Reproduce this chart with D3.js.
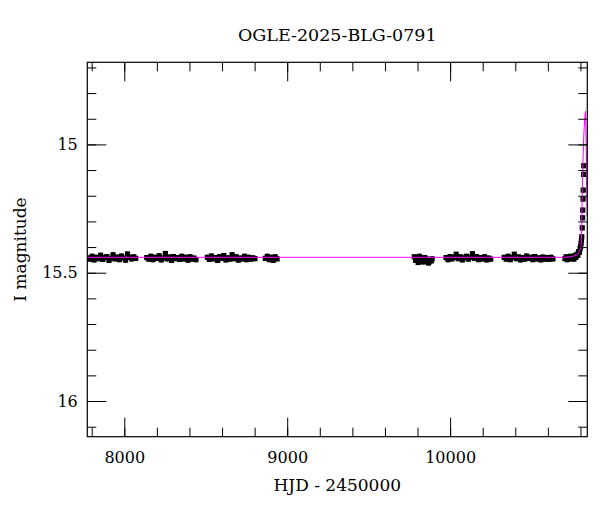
<html>
<head>
<meta charset="utf-8">
<title>OGLE-2025-BLG-0791</title>
<script src="https://d3js.org/d3.v7.min.js"></script>
<style>
    body { margin: 0; background: #fff; }
    text { font-family: "DejaVu Serif", serif; fill: #000; }
    .axis path.domain { display: none; }
    .axis line { stroke: #000; stroke-width: 1; }
    .axis text { font-size: 16px; }
</style>
</head>
<body>
<div id="chart"></div>
<script>
// photometry, one list per observing season: [HJD - 2450000, I mag]
var season1 = [[7776,15.442],[7790,15.447],[7803,15.436],[7815,15.450],[7828,15.440],[7842,15.445],[7855,15.432],[7868,15.448],[7880,15.441],[7893,15.437],[7906,15.452],[7918,15.444],[7931,15.430],[7944,15.446],[7957,15.439],[7970,15.449],[7983,15.435],[7996,15.443],[8008,15.451],[8020,15.427],[8033,15.440],[8045,15.446],[8058,15.438],[8070,15.444]];
var season2 = [[8138,15.441],[8150,15.447],[8163,15.436],[8176,15.449],[8189,15.440],[8201,15.444],[8214,15.434],[8227,15.450],[8240,15.442],[8252,15.425],[8264,15.446],[8277,15.439],[8290,15.452],[8302,15.437],[8315,15.445],[8328,15.441],[8340,15.448],[8353,15.436],[8366,15.446],[8378,15.440],[8391,15.451],[8404,15.438],[8416,15.447],[8428,15.443],[8440,15.449]];
var season3 = [[8510,15.440],[8522,15.448],[8535,15.435],[8548,15.446],[8560,15.441],[8573,15.452],[8586,15.437],[8598,15.444],[8611,15.433],[8624,15.450],[8636,15.442],[8649,15.447],[8662,15.430],[8674,15.445],[8687,15.438],[8700,15.451],[8712,15.443],[8725,15.446],[8738,15.436],[8750,15.449],[8763,15.440],[8776,15.447],[8789,15.442],[8802,15.445]];
var season4 = [[8866,15.444],[8878,15.436],[8890,15.449],[8902,15.440],[8914,15.452],[8926,15.438],[8938,15.446]];
var season5 = [[9780,15.438],[9788,15.452],[9796,15.444],[9804,15.460],[9812,15.436],[9820,15.450],[9828,15.445],[9836,15.458],[9844,15.441],[9852,15.455],[9860,15.447],[9868,15.462],[9876,15.449],[9884,15.454],[9890,15.446]];
var season6 = [[9975,15.441],[9987,15.449],[10000,15.437],[10012,15.446],[10025,15.440],[10037,15.428],[10050,15.445],[10062,15.438],[10075,15.450],[10087,15.442],[10100,15.436],[10112,15.447],[10125,15.440],[10137,15.426],[10150,15.444],[10162,15.437],[10175,15.449],[10187,15.441],[10200,15.446],[10212,15.438],[10225,15.450],[10237,15.443],[10249,15.447]];
var season7 = [[10332,15.440],[10344,15.447],[10357,15.436],[10369,15.449],[10382,15.441],[10394,15.428],[10407,15.445],[10419,15.438],[10432,15.450],[10444,15.441],[10457,15.447],[10469,15.435],[10482,15.444],[10494,15.440],[10507,15.449],[10519,15.437],[10532,15.446],[10544,15.442],[10557,15.450],[10569,15.439],[10582,15.447],[10594,15.441],[10607,15.448],[10619,15.440],[10631,15.446]];
var season8 = [[10705,15.445],[10712,15.438],[10719,15.449],[10726,15.440],[10733,15.446],[10740,15.436],[10747,15.444],[10754,15.439],[10760,15.447],[10766,15.433],[10772,15.440],[10778,15.428],[10784,15.432],[10789,15.418],[10794,15.420],[10798,15.405],[10801,15.398],[10804,15.385],[10806,15.372],[10808,15.360],[10811,15.325],[10813,15.286],[10814,15.256],[10816,15.213],[10817,15.178],[10819,15.117],[10820,15.083]];

// model light curve
var modelCurve = [[7773,15.440],[10700,15.440],[10750,15.437],[10780,15.430],[10795,15.418],[10803,15.398],[10806,15.372],[10808,15.30],[10811,15.20],[10815,15.08],[10820,14.97],[10826,14.90],[10831,14.87],[10835,15.00],[10839,15.20],[10842,15.28]];

var magError = 0.01;

var xMajorTicks = [8000, 9000, 10000];
var xMinorTicks = [7800, 8000, 8200, 8400, 8600, 8800, 9000, 9200, 9400, 9600, 9800, 10000, 10200, 10400, 10600, 10800];
var yMajorTicks = [15, 15.5, 16];
var yMinorTicks = [14.7, 14.8, 14.9, 15, 15.1, 15.2, 15.3, 15.4, 15.5, 15.6, 15.7, 15.8, 15.9, 16, 16.1];

var width = 600, height = 512;
var plotL = 87.3, plotR = 587.3, plotT = 62.3, plotB = 436.7;

var svg = d3.select('#chart').append('svg')
    .attr('width', width).attr('height', height);

var x = d3.scaleLinear().domain([7773, 10842]).range([plotL, plotR]);
var y = d3.scaleLinear().domain([14.68, 16.139]).range([plotT, plotB]);

svg.append('clipPath').attr('id', 'plotclip')
    .append('rect')
    .attr('x', plotL).attr('y', plotT)
    .attr('width', plotR - plotL).attr('height', plotB - plotT);

var plot = svg.append('g').attr('clip-path', 'url(#plotclip)');

var allPoints = [].concat(season1, season2, season3, season4, season5, season6, season7, season8);

// error bars
plot.selectAll('line.err')
    .data(allPoints)
    .enter()
    .append('line')
    .attr('class', 'err')
    .attr('x1', function (d) { return x(d[0]); })
    .attr('x2', function (d) { return x(d[0]); })
    .attr('y1', function (d) { return y(d[1] - magError); })
    .attr('y2', function (d) { return y(d[1] + magError); })
    .attr('stroke', '#000').attr('stroke-width', 1.5);

plot.selectAll('rect.pt')
    .data(allPoints)
    .enter()
    .append('rect')
    .attr('class', 'pt')
    .attr('x', function (d) { return x(d[0]) - 2.6; })
    .attr('y', function (d) { return y(d[1]) - 2.6; })
    .attr('width', 5.2).attr('height', 5.2)
    .attr('fill', '#000');

var line = d3.line()
    .x(function (d) { return x(d[0]); })
    .y(function (d) { return y(d[1]); });

plot.append('path')
    .datum(modelCurve)
    .attr('d', line)
    .attr('fill', 'none')
    .attr('stroke', '#ff00ff')
    .attr('stroke-width', 1);

// axes: ticks inward on all four sides
function addAxis(axis, tx, ty) {
    svg.append('g').attr('class', 'axis')
        .attr('transform', 'translate(' + tx + ',' + ty + ')')
        .call(axis);
}
addAxis(d3.axisBottom(x).tickValues(xMinorTicks).tickSize(-9).tickFormat(''), 0, plotB);
addAxis(d3.axisBottom(x).tickValues(xMajorTicks).tickSize(-19).tickPadding(15).tickFormat(d3.format('d')), 0, plotB);
addAxis(d3.axisTop(x).tickValues(xMinorTicks).tickSize(-9).tickFormat(''), 0, plotT);
addAxis(d3.axisTop(x).tickValues(xMajorTicks).tickSize(-19).tickFormat(''), 0, plotT);
addAxis(d3.axisLeft(y).tickValues(yMinorTicks).tickSize(-9).tickFormat(''), plotL, 0);
addAxis(d3.axisLeft(y).tickValues(yMajorTicks).tickSize(-19).tickPadding(9.5).tickFormat(function (d) { return String(d); }), plotL, 0);
addAxis(d3.axisRight(y).tickValues(yMinorTicks).tickSize(-9).tickFormat(''), plotR, 0);
addAxis(d3.axisRight(y).tickValues(yMajorTicks).tickSize(-19).tickFormat(''), plotR, 0);

svg.selectAll('.axis text').attr('font-family', '"DejaVu Serif", serif').attr('font-size', 16);

svg.append('rect')
    .attr('x', plotL).attr('y', plotT)
    .attr('width', plotR - plotL).attr('height', plotB - plotT)
    .attr('fill', 'none').attr('stroke', '#000').attr('stroke-width', 1.2);

svg.append('text')
    .attr('x', (plotL + plotR) / 2).attr('y', 40.5)
    .attr('text-anchor', 'middle')
    .style('font-size', '17.5px')
    .text('OGLE-2025-BLG-0791');

svg.append('text')
    .attr('x', (plotL + plotR) / 2).attr('y', 490.7)
    .attr('text-anchor', 'middle')
    .style('font-size', '17px')
    .text('HJD - 2450000');

svg.append('text')
    .attr('transform', 'translate(26,' + ((plotT + plotB) / 2) + ') rotate(-90)')
    .attr('text-anchor', 'middle')
    .style('font-size', '17px')
    .text('I magnitude');
</script>
</body>
</html>
